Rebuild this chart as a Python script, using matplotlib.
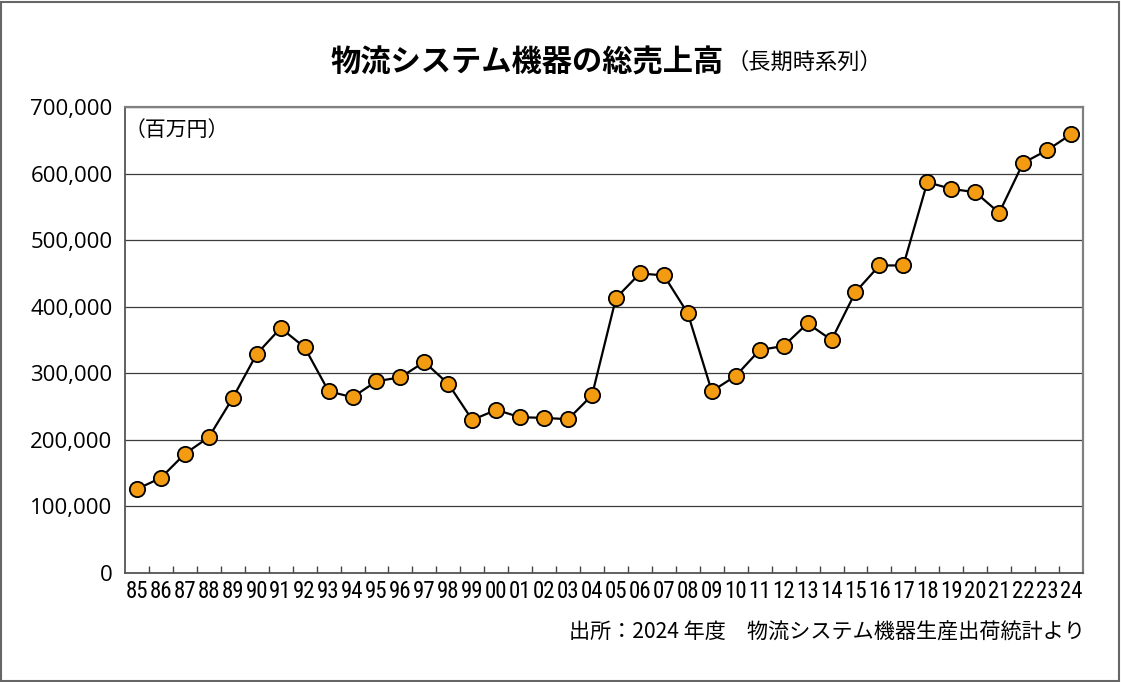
import matplotlib
matplotlib.use('Agg')
import matplotlib.pyplot as plt
from matplotlib.ticker import FuncFormatter, FixedLocator
from matplotlib.patches import Rectangle
import numpy as np

plt.rcParams['font.family'] = ['Noto Sans CJK JP', 'DejaVu Sans']

years = ['85', '86', '87', '88', '89', '90', '91', '92', '93', '94',
         '95', '96', '97', '98', '99', '00', '01', '02', '03', '04',
         '05', '06', '07', '08', '09', '10', '11', '12', '13', '14',
         '15', '16', '17', '18', '19', '20', '21', '22', '23', '24']
sales = [126000, 143000, 179000, 204000, 263000, 329000, 368000, 339000, 273000, 264000,
         288000, 294000, 317000, 284000, 230000, 245000, 234000, 233000, 231000, 267000,
         413000, 450000, 447000, 390000, 273000, 296000, 335000, 341000, 375000, 350000,
         422000, 462000, 462000, 587000, 577000, 572000, 541000, 616000, 635000, 659000]
y_ticks = [0, 100000, 200000, 300000, 400000, 500000, 600000, 700000]

title = '物流システム機器の総売上高'
subtitle = '（長期時系列）'
unit = '（百万円）'
source = '出所：2024 年度　物流システム機器生産出荷統計より'

W, H = 1121, 682
fig = plt.figure(figsize=(W / 100, H / 100), dpi=100)
ax = fig.add_axes([125 / W, 1 - 573 / H, (1083 - 125) / W, (573 - 107) / H])

x = np.arange(len(years))
ax.plot(x, sales, color='black', linewidth=1.6, marker='o', markersize=11,
        markerfacecolor='#F39C12', markeredgecolor='black', markeredgewidth=1.3,
        zorder=3)

ax.set_xlim(-0.5, len(years) - 0.5)
ax.set_ylim(0, 700000)
ax.set_yticks(y_ticks)
ax.yaxis.set_major_formatter(FuncFormatter(lambda v, p: format(int(v), ',')))
ax.yaxis.grid(True, color='#3c3c3c', linewidth=0.9)
ax.set_axisbelow(True)
ax.tick_params(axis='y', length=0, pad=9, labelsize=16)
for lab in ax.get_yticklabels():
    lab.set_fontfamily(['Open Sans', 'DejaVu Sans'])

ax.set_xticks(x)
ax.set_xticklabels(years, fontsize=16.5, family=['Roboto Condensed', 'DejaVu Sans'])
ax.tick_params(axis='x', which='major', length=0, pad=5)
ax.xaxis.set_minor_locator(FixedLocator(np.arange(0.5, len(years) - 1, 1)))
ax.tick_params(axis='x', which='minor', direction='in', length=5, width=1, color='#444444')

for side in ['left', 'bottom']:
    ax.spines[side].set_color('#555555')
    ax.spines[side].set_linewidth(1.3)
for side in ['top', 'right']:
    ax.spines[side].set_color('#808080')
    ax.spines[side].set_linewidth(1.6)

ax.text(0.0, 0.951, unit, transform=ax.transAxes, fontsize=15, va='center', ha='left')

fig.text(330 / W, 1 - 63 / H, title, fontsize=21.8, fontweight='bold', va='center', ha='left')
fig.text(726 / W, 1 - 62 / H, subtitle, fontsize=16, va='center', ha='left')
fig.text(1085 / W, 1 - 633 / H, source, fontsize=15.2, va='center', ha='right')

fig.patches.append(Rectangle((1 / W, 1 / H), 1 - 3 / W, 1 - 3 / H, transform=fig.transFigure,
                             fill=False, edgecolor='#666666', linewidth=1.5))

fig.savefig('out.png', dpi=100)
